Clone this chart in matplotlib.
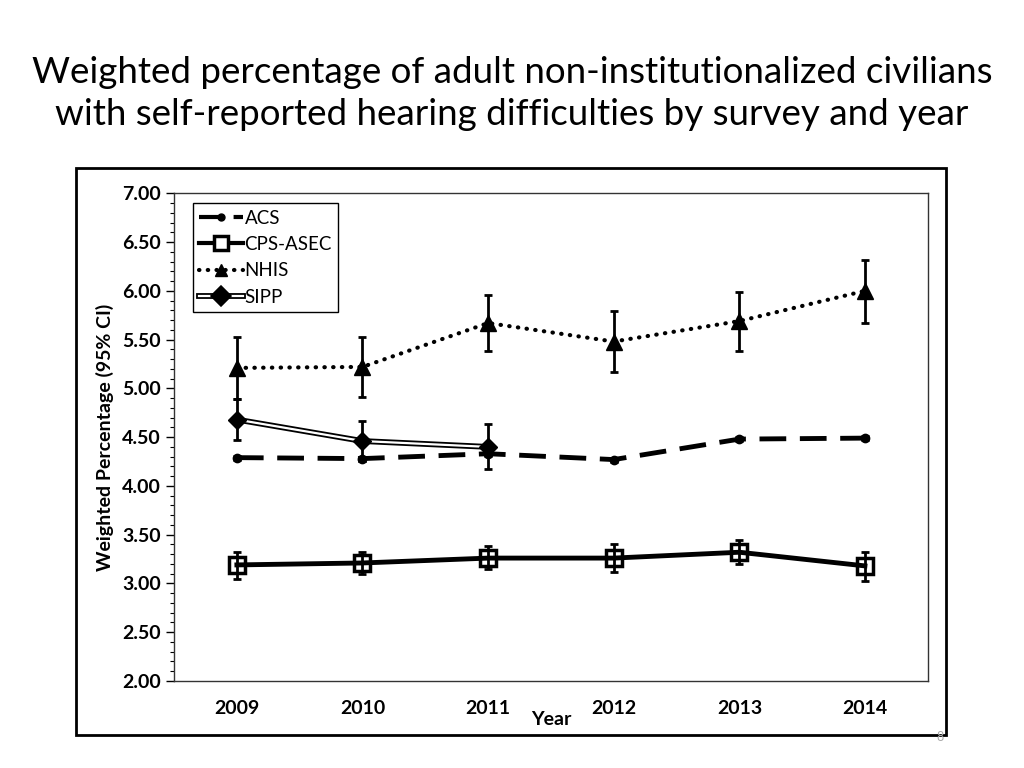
import numpy as np
import matplotlib.pyplot as plt
import matplotlib.patheffects as pe
from matplotlib.lines import Line2D
from matplotlib.patches import Rectangle

years = ['2009', '2010', '2011', '2012', '2013', '2014']

# point estimates and 95% CI bounds
acs = [4.29, 4.28, 4.33, 4.27, 4.48, 4.49]
acs_lo = [4.27, 4.26, 4.31, 4.25, 4.46, 4.47]
acs_hi = [4.31, 4.30, 4.35, 4.29, 4.50, 4.51]

cps = [3.19, 3.21, 3.26, 3.26, 3.32, 3.18]
cps_lo = [3.05, 3.10, 3.15, 3.12, 3.20, 3.03]
cps_hi = [3.32, 3.32, 3.38, 3.40, 3.45, 3.32]

nhis = [5.21, 5.22, 5.67, 5.48, 5.69, 6.00]
nhis_lo = [4.89, 4.91, 5.38, 5.17, 5.38, 5.67]
nhis_hi = [5.53, 5.53, 5.96, 5.79, 5.99, 6.32]

sipp = [4.68, 4.46, 4.40]
sipp_lo = [4.47, 4.26, 4.17]
sipp_hi = [4.89, 4.67, 4.63]

title = ('Weighted percentage of adult non-institutionalized civilians\n'
         'with self-reported hearing difficulties by survey and year')

plt.rcParams['font.family'] = ['Lato', 'DejaVu Sans']

fig = plt.figure(figsize=(10.24, 7.68), dpi=100)
fig.text(0.5, 0.878, title, ha='center', va='center', fontsize=26.5, linespacing=1.35)

# outer chart frame
fig.patches.append(Rectangle((0.0742, 0.043), 0.85, 0.738, transform=fig.transFigure,
                             fill=False, edgecolor='black', lw=2, zorder=0))

ax = fig.add_axes([0.170, 0.1133, 0.736, 0.635])
x = np.arange(len(years))


def err(vals, lo, hi):
    v = np.array(vals)
    return [v - np.array(lo), np.array(hi) - v]


ekw = dict(ecolor='black', elinewidth=2, capsize=3, capthick=2)
acs_ls = (0, (5.5, 2.8))
nhis_ls = (0, (0.1, 2.0))
sipp_fx = [pe.Stroke(linewidth=4.2, foreground='black'), pe.Normal()]

# NHIS
ax.errorbar(x, nhis, yerr=err(nhis, nhis_lo, nhis_hi), fmt='none', zorder=3, **ekw)
ax.plot(x, nhis, color='black', ls=nhis_ls, lw=3, dash_capstyle='round',
        marker='^', ms=11, mfc='black', mec='black', zorder=4)

# SIPP (double line)
xs = x[:len(sipp)]
ax.errorbar(xs, sipp, yerr=err(sipp, sipp_lo, sipp_hi), fmt='none', zorder=3, **ekw)
ax.plot(xs, sipp, color='white', lw=1.6, path_effects=sipp_fx, zorder=5)
ax.plot(xs, sipp, ls='none', marker='D', ms=9, mfc='black', mec='black', zorder=6)

# ACS
ax.errorbar(x, acs, yerr=err(acs, acs_lo, acs_hi), fmt='none', zorder=3, **ekw)
ax.plot(x, acs, color='black', ls=acs_ls, lw=3.5, marker='o', ms=6,
        mfc='black', mec='black', zorder=4)

# CPS-ASEC
ax.errorbar(x, cps, yerr=err(cps, cps_lo, cps_hi), fmt='none', zorder=5, **ekw)
ax.plot(x, cps, color='black', lw=3.5, marker='s', ms=11, mfc='none', mec='black',
        mew=2.5, zorder=4)

ax.set_xlim(-0.5, 5.5)
ax.set_ylim(2.0, 7.0)
ax.set_yticks(np.arange(2.0, 7.01, 0.5))
ax.set_yticks(np.arange(2.0, 7.01, 0.1), minor=True)
ax.set_yticklabels(['%.2f' % v for v in np.arange(2.0, 7.01, 0.5)],
                   fontsize=14, fontweight='bold')
ax.set_xticks(x)
ax.set_xticklabels(years, fontsize=14, fontweight='bold')
ax.tick_params(axis='x', length=0, pad=14)
ax.tick_params(axis='y', which='major', direction='out', length=6, width=1)
ax.tick_params(axis='y', which='minor', direction='out', length=3, width=0.8)
for s in ax.spines.values():
    s.set_linewidth(1)
    s.set_color('#333333')

ax.set_ylabel('Weighted Percentage (95% CI)', fontsize=14, fontweight='bold', labelpad=6)
ax.text(0.5, -0.078, 'Year', transform=ax.transAxes, ha='center', va='center',
        fontsize=14, fontweight='bold')

# legend handles
h_acs = Line2D([], [], color='black', ls=acs_ls, lw=3, marker='o', ms=5, mfc='black')
h_cps = Line2D([], [], color='black', lw=3, marker='s', ms=10, mfc='white', mec='black', mew=2.5)
h_nhis = Line2D([], [], color='black', ls=nhis_ls, lw=3, dash_capstyle='round',
                marker='^', ms=9, mfc='black')
h_sipp = Line2D([], [], color='white', lw=1.6, path_effects=sipp_fx,
                marker='D', ms=7, mfc='black', mec='black')
leg = ax.legend([h_acs, h_cps, h_nhis, h_sipp], ['ACS', 'CPS-ASEC', 'NHIS', 'SIPP'],
                loc='upper left', bbox_to_anchor=(0.025, 0.98), fontsize=13.5,
                frameon=True, fancybox=False, edgecolor='black', framealpha=1,
                handlelength=2.3, handletextpad=0.1, labelspacing=0.5,
                borderpad=0.35, borderaxespad=0)
leg.get_frame().set_linewidth(1)

fig.text(0.918, 0.040, '8', fontsize=9, color='#aaaaaa', ha='center', va='center')

fig.savefig('out.png', dpi=100)
